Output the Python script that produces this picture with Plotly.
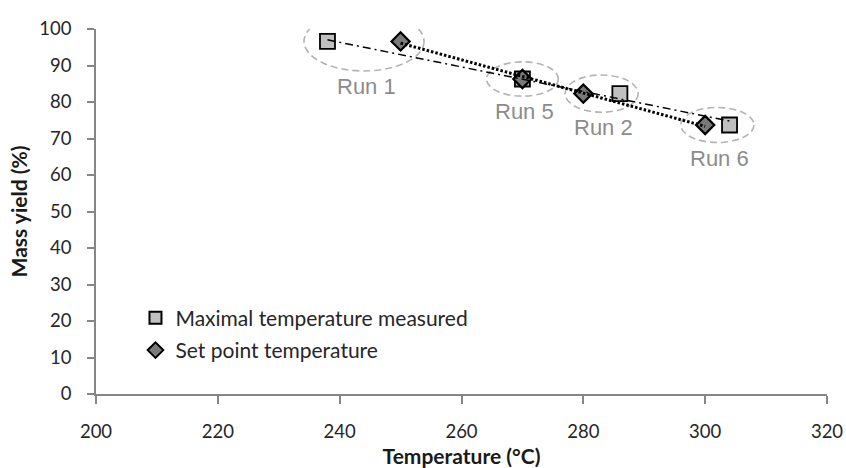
import numpy as np
import plotly.graph_objects as go

# ---- data ----
runs = ["Run 1", "Run 2", "Run 5", "Run 6"]
measured_temp = [238, 286, 270, 304]      # maximal temperature measured (°C)
setpoint_temp = [250, 280, 270, 300]      # set point temperature (°C)
mass_yield = [96.6, 82.3, 86.3, 73.7]     # mass yield (%)

x_ticks = [200, 220, 240, 260, 280, 300, 320]
y_ticks = [0, 10, 20, 30, 40, 50, 60, 70, 80, 90, 100]

# ---- styles ----
FONT = "Lato"
LABEL_FONT = "Liberation Sans"
AXIS_GRAY = "#868686"
ELLIPSE_GRAY = "#b4b4b4"
RUN_TEXT = "#8c8c8c"
TEXT = "#262626"
# ellipse half-axes (x in °C, y in %), drawn around each run pair
ellipse_rx = [9.85, 6.0, 5.9, 6.0]
ellipse_ry = [8.1, 5.1, 4.7, 4.8]

fig = go.Figure()

fig.add_trace(go.Scatter(
    x=measured_temp, y=mass_yield, mode="markers",
    name="Maximal temperature measured", legendgroup="a",
    marker=dict(symbol="square", size=15, color="#c0c0c0",
                line=dict(color="#000000", width=1.8)),
))
fig.add_trace(go.Scatter(
    x=setpoint_temp, y=mass_yield, mode="markers",
    name="Set point temperature", legendgroup="b",
    marker=dict(symbol="diamond", size=14, color="#7a7a7a",
                line=dict(color="#000000", width=2.2)),
))

# linear trendlines fitted from the data
def trend(xs, ys):
    a, b = np.polyfit(xs, ys, 1)
    xr = np.array([min(xs), max(xs)], dtype=float)
    return xr, a * xr + b

tx, ty = trend(measured_temp, mass_yield)
fig.add_trace(go.Scatter(x=tx, y=ty, mode="lines", showlegend=False,
                         hoverinfo="skip",
                         line=dict(color="#000000", width=1.5, dash="8px,4px,2px,4px")))
sx, sy = trend(setpoint_temp, mass_yield)
fig.add_trace(go.Scatter(x=sx, y=sy, mode="lines", showlegend=False,
                         hoverinfo="skip",
                         line=dict(color="#000000", width=3, dash="2.5px,2px")))

# ellipses and run labels
for i, run in enumerate(runs):
    cx = (measured_temp[i] + setpoint_temp[i]) / 2
    cy = mass_yield[i]
    fig.add_shape(type="circle", xref="x", yref="y",
                  x0=cx - ellipse_rx[i], x1=cx + ellipse_rx[i],
                  y0=cy - ellipse_ry[i], y1=cy + ellipse_ry[i],
                  line=dict(color=ELLIPSE_GRAY, width=1.6, dash="7px,4px"),
                  layer="below")
    fig.add_annotation(x=cx, y=cy - ellipse_ry[i], xref="x", yref="y",
                       text=run, showarrow=False, yanchor="top",
                       xanchor="center", xshift=2, yshift=-1,
                       font=dict(family=LABEL_FONT, size=22, color=RUN_TEXT))

fig.update_layout(
    width=846, height=468,
    margin=dict(l=96, r=19, t=29, b=74),
    paper_bgcolor="white", plot_bgcolor="white",
    font=dict(family=FONT, size=19, color=TEXT),
    showlegend=True,
    legend=dict(x=0.054, y=0.264, xanchor="left", yanchor="top",
                bgcolor="rgba(0,0,0,0)", itemsizing="constant",
                tracegroupgap=2, font=dict(family=FONT, size=21, color=TEXT)),
    xaxis=dict(range=[200, 320], tickvals=x_ticks, showgrid=False, zeroline=False,
               showline=True, linecolor=AXIS_GRAY, linewidth=1.5,
               ticks="outside", ticklen=8, tickwidth=1.5, tickcolor=AXIS_GRAY,
               ticklabelstandoff=12, automargin=False,
               tickfont=dict(family=FONT, size=18.5, color=TEXT),
               title=dict(text="<b>Temperature (°C)</b>", standoff=12,
                          font=dict(family=FONT, size=21, color="#1a1a1a"))),
    yaxis=dict(range=[0, 100], tickvals=y_ticks, showgrid=False, zeroline=False,
               showline=True, linecolor=AXIS_GRAY, linewidth=1.5,
               ticks="outside", ticklen=7, tickwidth=1.5, tickcolor=AXIS_GRAY,
               ticklabelstandoff=12, automargin=False,
               tickfont=dict(family=FONT, size=18.5, color=TEXT),
               title=dict(text="<b>Mass yield (%)</b>", standoff=6,
                          font=dict(family=FONT, size=21, color="#1a1a1a"))),
)

fig.write_html("out.html", config={"displayModeBar": False},
               post_script="document.body.style.margin='0px';document.body.style.overflow='hidden';")
